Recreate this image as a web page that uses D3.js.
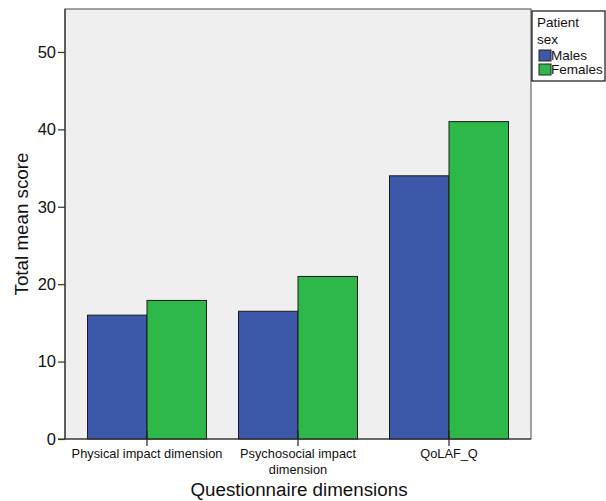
<!DOCTYPE html>
<html><head><meta charset="utf-8">
<script src="https://cdn.jsdelivr.net/npm/d3@7"></script>
<style>body{margin:0;background:#fff}svg{display:block;font-family:"Liberation Sans",Arial,sans-serif}</style>
</head><body><svg id="c" width="606" height="501"></svg>
<script>
const categories = ["Physical impact dimension", "Psychosocial impact dimension", "QoLAF_Q"];
const categoryLines = [["Physical impact dimension"], ["Psychosocial impact", "dimension"], ["QoLAF_Q"]];
const seriesNames = ["Males", "Females"];
const males = [16.0, 16.5, 34.0];
const females = [17.9, 21.0, 41.0];
const yTicks = [0, 10, 20, 30, 40, 50];
const colors = ["#3D58A8", "#2EB84A"];

const svg = d3.select("#c");
const L = 65, R = 531, T = 9, B = 439;
const x = d3.scaleBand().domain(categories).range([L, R]).paddingInner(0.212).paddingOuter(0.149);
const xs = d3.scaleBand().domain(seriesNames).range([0, x.bandwidth()]);
const y = d3.scaleLinear().domain([0, 55.55]).range([B, T]);

svg.append("rect").attr("x", L).attr("y", T).attr("width", R - L).attr("height", B - T)
  .attr("fill", "#EFEFEF").attr("stroke", "#666").attr("stroke-width", 1.2);

const data = categories.map((c, i) => ({c, vals: [males[i], females[i]]}));
const g = svg.append("g");
data.forEach(d => {
  d.vals.forEach((v, j) => {
    g.append("rect").attr("x", x(d.c) + xs(seriesNames[j])).attr("y", y(v))
      .attr("width", xs.bandwidth()).attr("height", y(0) - y(v))
      .attr("fill", colors[j]).attr("stroke", "#1a1a1a").attr("stroke-width", 1);
  });
});

// y axis
const ya = svg.append("g").attr("transform", `translate(${L},0)`)
  .call(d3.axisLeft(y).tickValues(yTicks).tickSize(7).tickPadding(2).tickFormat(d3.format("d")));
ya.select(".domain").attr("stroke", "#333").attr("stroke-width", 1.2).attr("d", `M0,${T}V${B}`);
ya.selectAll(".tick line").attr("stroke", "#333").attr("stroke-width", 1.2);
ya.selectAll("text").attr("font-size", 16.5).attr("fill", "#111").attr("font-family", "Liberation Sans, Arial, sans-serif");

// x axis
const xa = svg.append("g").attr("transform", `translate(0,${B})`)
  .call(d3.axisBottom(x).tickSize(7).tickFormat(""));
xa.select(".domain").attr("stroke", "#333").attr("stroke-width", 1.2).attr("d", `M${L - 7},0H${R}`);
xa.selectAll(".tick line").attr("stroke", "#222").attr("stroke-width", 1.2).attr("y1", -8);
categories.forEach((c, i) => {
  const t = svg.append("text").attr("x", x(c) + x.bandwidth() / 2).attr("y", B + 19)
    .attr("text-anchor", "middle").attr("font-size", 12.8).attr("fill", "#111");
  categoryLines[i].forEach((ln, k) => t.append("tspan").attr("x", x(c) + x.bandwidth() / 2).attr("dy", k ? 16 : 0).text(ln));
});

svg.append("text").attr("x", 299).attr("y", 496).attr("text-anchor", "middle")
  .attr("font-size", 18.8).attr("fill", "#111").text("Questionnaire dimensions");
svg.append("text").attr("transform", `translate(28,${(T + B) / 2}) rotate(-90)`).attr("text-anchor", "middle")
  .attr("font-size", 18.8).attr("fill", "#111").text("Total mean score");

// legend
const lg = svg.append("g");
lg.append("rect").attr("x", 532).attr("y", 11).attr("width", 73).attr("height", 70)
  .attr("fill", "#fff").attr("stroke", "#111").attr("stroke-width", 1.2);
lg.append("text").attr("x", 537).attr("y", 27).attr("font-size", 13.5).attr("fill", "#111").text("Patient");
lg.append("text").attr("x", 537).attr("y", 44).attr("font-size", 13.5).attr("fill", "#111").text("sex");
seriesNames.forEach((s, j) => {
  lg.append("rect").attr("x", 539).attr("y", 50 + j * 14).attr("width", 12).attr("height", 11)
    .attr("fill", colors[j]).attr("stroke", "#222").attr("stroke-width", 1);
  lg.append("text").attr("x", 551).attr("y", 60 + j * 14).attr("font-size", 13.5).attr("fill", "#111").text(s);
});
</script></body></html>
